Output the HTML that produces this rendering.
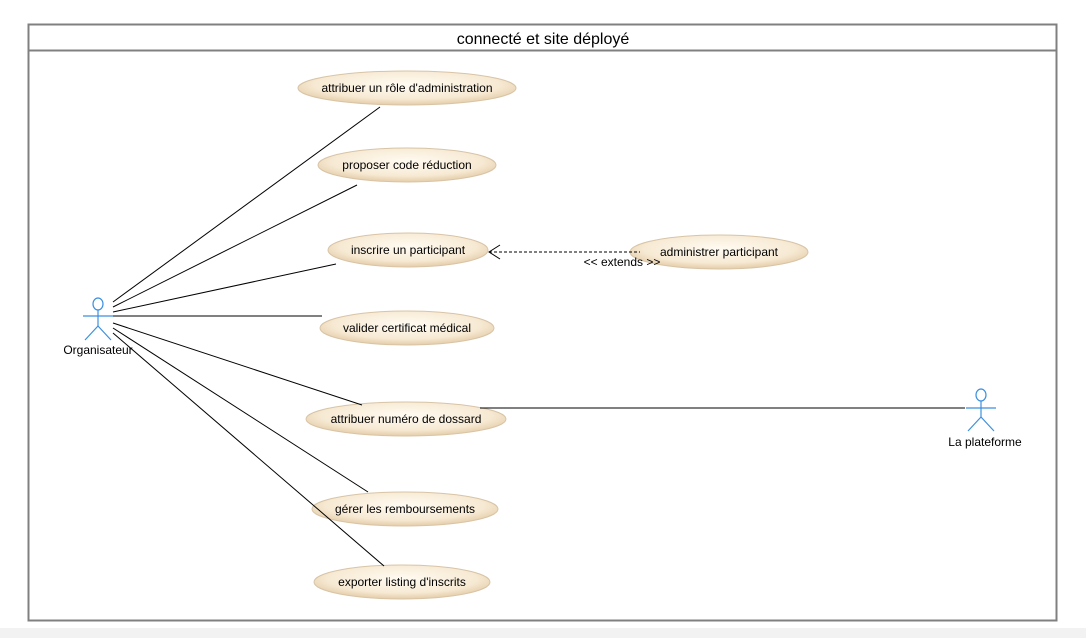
<!DOCTYPE html>
<html><head><meta charset="utf-8"><style>
html,body{margin:0;padding:0;background:#fff;width:1086px;height:638px;overflow:hidden}
svg text{font-family:"Liberation Sans",sans-serif;fill:#000}
</style></head><body>
<svg width="1086" height="638" xmlns="http://www.w3.org/2000/svg">
<defs>
<radialGradient id="g" cx="50%" cy="40%" r="60%">
<stop offset="0" stop-color="#fffbf2"/><stop offset="0.7" stop-color="#f7ead4"/><stop offset="1" stop-color="#e4cca8"/>
</radialGradient>
</defs>
<rect x="0" y="628" width="1086" height="10" fill="#f2f2f2"/>
<rect x="28.5" y="24.5" width="1028" height="596" fill="#fff" stroke="#808080" stroke-width="2"/>
<line x1="28" y1="50.5" x2="1057" y2="50.5" stroke="#808080" stroke-width="2"/>
<text x="543" y="44" font-size="16" text-anchor="middle">connecté et site déployé</text>
<g stroke="#d8c4a6" stroke-width="1">
<ellipse cx="407" cy="88" rx="109" ry="17" fill="url(#g)"/>
<ellipse cx="407" cy="165" rx="89" ry="17" fill="url(#g)"/>
<ellipse cx="408" cy="250" rx="80" ry="17" fill="url(#g)"/>
<ellipse cx="719" cy="252" rx="89" ry="17" fill="url(#g)"/>
<ellipse cx="407" cy="328" rx="87" ry="17" fill="url(#g)"/>
<ellipse cx="406" cy="419" rx="100" ry="17" fill="url(#g)"/>
<ellipse cx="405" cy="509" rx="93" ry="17" fill="url(#g)"/>
<ellipse cx="402" cy="582" rx="88" ry="17" fill="url(#g)"/>
</g>
<g stroke="#000" stroke-width="1" fill="none">
<line x1="113" y1="302" x2="380" y2="107"/>
<line x1="113" y1="307" x2="357" y2="185"/>
<line x1="113" y1="312" x2="336" y2="264"/>
<line x1="113" y1="316" x2="322" y2="316"/>
<line x1="113" y1="323" x2="362" y2="405"/>
<line x1="113" y1="328" x2="368" y2="492"/>
<line x1="113" y1="333" x2="384" y2="566"/>
<line x1="480" y1="408" x2="965" y2="408"/>
<line x1="489" y1="252" x2="640" y2="252" stroke-dasharray="3,2"/>
<polyline points="500,245 489,252 500,259"/>
</g>
<g font-size="12" text-anchor="middle">
<text x="407" y="92">attribuer un rôle d'administration</text>
<text x="407" y="169">proposer code réduction</text>
<text x="408" y="254">inscrire un participant</text>
<text x="719" y="256">administrer participant</text>
<text x="407" y="332">valider certificat médical</text>
<text x="406" y="423">attribuer numéro de dossard</text>
<text x="405" y="513">gérer les remboursements</text>
<text x="402" y="586">exporter listing d'inscrits</text>
<text x="622" y="266">&lt;&lt; extends &gt;&gt;</text>
<text x="98" y="354">Organisateur</text>
<text x="985" y="446">La plateforme</text>
</g>
<g stroke="#3b8fe0" stroke-width="1.2" fill="none">
<ellipse cx="98" cy="304" rx="5" ry="6"/>
<line x1="98" y1="310" x2="98" y2="326"/><line x1="83" y1="316" x2="113" y2="316"/>
<line x1="98" y1="326" x2="85" y2="340"/><line x1="98" y1="326" x2="111" y2="340"/>
<ellipse cx="981" cy="395" rx="5" ry="6"/>
<line x1="981" y1="401" x2="981" y2="417"/><line x1="966" y1="408" x2="996" y2="408"/>
<line x1="981" y1="417" x2="968" y2="431"/><line x1="981" y1="417" x2="994" y2="431"/>
</g>
</svg>
</body></html>
